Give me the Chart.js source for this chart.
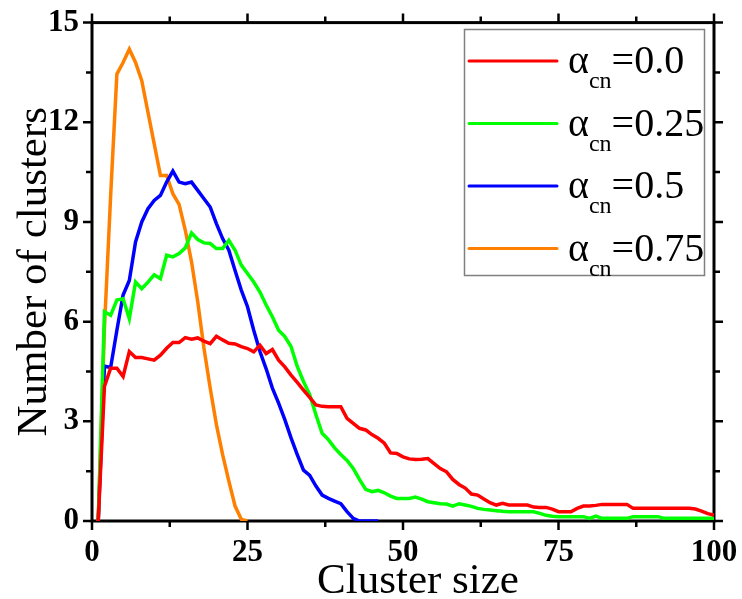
<!DOCTYPE html>
<html>
<head>
<meta charset="utf-8">
<script src="https://cdn.jsdelivr.net/npm/chart.js@4.4.1/dist/chart.umd.min.js"></script>
<style>
  html, body { margin: 0; padding: 0; background: #fff; }
  #wrap { width: 742px; height: 599px; }
</style>
</head>
<body>
<div id="wrap"><canvas id="chart" width="742" height="599"></canvas></div>
<script>
// cluster sizes on the x axis
const clusterSize = [
  1, 2, 3, 4, 5, 6, 7, 8, 9, 10, 11, 12, 13, 14, 15, 16, 17, 18, 19, 20,
  21, 22, 23, 24, 25, 26, 27, 28, 29, 30, 31, 32, 33, 34, 35, 36, 37, 38, 39, 40,
  41, 42, 43, 44, 45, 46, 47, 48, 49, 50, 51, 52, 53, 54, 55, 56, 57, 58, 59, 60,
  61, 62, 63, 64, 65, 66, 67, 68, 69, 70, 71, 72, 73, 74, 75, 76, 77, 78, 79, 80,
  81, 82, 83, 84, 85, 86, 87, 88, 89, 90, 91, 92, 93, 94, 95, 96, 97, 98, 99, 100
];

// number of clusters for each alpha_cn
const clusters00 = [
  0, 4.05, 4.6, 4.6, 4.35, 5.1, 4.92, 4.92, 4.88, 4.84,
  4.99, 5.2, 5.37, 5.37, 5.52, 5.47, 5.51, 5.41, 5.34, 5.56,
  5.45, 5.35, 5.33, 5.25, 5.19, 5.09, 5.29, 5.04, 5.16, 4.84,
  4.64, 4.39, 4.17, 3.94, 3.72, 3.49, 3.45, 3.44, 3.44, 3.44,
  3.09, 2.94, 2.79, 2.74, 2.6, 2.49, 2.34, 2.05, 2.03, 1.93,
  1.87, 1.85, 1.86, 1.88, 1.73, 1.58, 1.48, 1.25, 1.1, 0.99,
  0.81, 0.78, 0.66, 0.55, 0.48, 0.53, 0.48, 0.48, 0.48, 0.48,
  0.42, 0.41, 0.41, 0.36, 0.28, 0.28, 0.28, 0.38, 0.45, 0.45,
  0.47, 0.5, 0.5, 0.5, 0.5, 0.5, 0.38, 0.38, 0.38, 0.38,
  0.38, 0.38, 0.38, 0.38, 0.38, 0.38, 0.36, 0.3, 0.22, 0.18
];
const clusters025 = [
  0, 6.3, 6.19, 6.65, 6.69, 6.09, 7.19, 6.99, 7.19, 7.41,
  7.29, 8.0, 7.95, 8.05, 8.22, 8.67, 8.47, 8.37, 8.35, 8.2,
  8.2, 8.45, 8.15, 7.7, 7.45, 7.19, 6.89, 6.5, 6.15, 5.74,
  5.55, 5.25, 4.65, 4.2, 3.8, 3.2, 2.64, 2.45, 2.2, 2.0,
  1.82, 1.58, 1.25, 0.95, 0.88, 0.92, 0.85, 0.75, 0.68, 0.68,
  0.68, 0.72, 0.66, 0.58, 0.55, 0.52, 0.51, 0.45, 0.52, 0.48,
  0.44, 0.38, 0.35, 0.33, 0.31, 0.29, 0.28, 0.28, 0.28, 0.28,
  0.28, 0.23, 0.17, 0.14, 0.13, 0.13, 0.13, 0.13, 0.13, 0.08,
  0.15, 0.08, 0.08, 0.08, 0.08, 0.08, 0.13, 0.13, 0.13, 0.13,
  0.13, 0.08, 0.08, 0.08, 0.08, 0.08, 0.08, 0.08, 0.08, 0.08
];
const clusters05 = [
  0, 4.66, 4.62, 5.74, 6.8, 7.24, 8.4, 9.0, 9.4, 9.65,
  9.8, 10.2, 10.53, 10.2, 10.15, 10.2, 9.95, 9.7, 9.45, 8.95,
  8.5, 8.15, 7.54, 6.95, 6.45, 5.74, 5.1, 4.58, 4.0, 3.55,
  3.05, 2.5, 2.0, 1.53, 1.37, 1.05, 0.78, 0.68, 0.6, 0.52,
  0.28, 0.08, 0, 0, 0, 0
];
const clusters075 = [
  0, 5.8, 9.8, 13.45, 13.8, 14.2, 13.8, 13.25, 12.3, 11.35,
  10.4, 10.4, 9.85, 9.53, 8.75, 7.8, 6.6, 5.2, 4.0, 2.9,
  2.0, 1.2, 0.45, 0.05, 0
];

const alphaValues = ['0.0', '0.25', '0.5', '0.75'];
const lineColors = ['#ff0000', '#00ff00', '#0000ff', '#ff8000'];
const seriesList = [clusters00, clusters025, clusters05, clusters075];

const SERIF = '"Liberation Serif", "Times New Roman", serif';

function toPoints(values) {
  return values.map((v, i) => ({ x: clusterSize[i], y: v }));
}

// tick marks (major + minor) on all four sides, pointing outwards, plus the frame
const framePlugin = {
  id: 'frame',
  beforeDatasetsDraw(chart) {
    const { ctx, chartArea: a, scales } = chart;
    const xs = scales.x, ys = scales.y;
    ctx.save();
    ctx.strokeStyle = '#000';
    ctx.lineWidth = 3;
    ctx.strokeRect(a.left, a.top, a.right - a.left, a.bottom - a.top);
    ctx.lineWidth = 2.5;
    ctx.beginPath();
    xs.ticks.forEach(t => {
      const px = xs.getPixelForValue(t.value);
      const len = t.value % 25 === 0 ? 9 : 6;
      ctx.moveTo(px, a.bottom); ctx.lineTo(px, a.bottom + len);
      ctx.moveTo(px, a.top); ctx.lineTo(px, a.top - len);
    });
    ys.ticks.forEach(t => {
      const py = ys.getPixelForValue(t.value);
      const len = t.value % 3 === 0 ? 9 : 6;
      ctx.moveTo(a.left, py); ctx.lineTo(a.left - len, py);
      ctx.moveTo(a.right, py); ctx.lineTo(a.right + len, py);
    });
    ctx.stroke();

    // x axis title, sits a bit right of the plot centre
    ctx.fillStyle = '#000';
    ctx.font = '43px ' + SERIF;
    ctx.textAlign = 'center';
    ctx.textBaseline = 'alphabetic';
    ctx.fillText('Cluster size', (a.left + a.right) / 2 + 15, chart.height - 6);
    ctx.restore();
  }
};

// legend with alpha and the "cn" subscript
const legendPlugin = {
  id: 'alphaLegend',
  afterDraw(chart) {
    const { ctx } = chart;
    ctx.save();
    ctx.strokeStyle = '#808080';
    ctx.lineWidth = 1.5;
    ctx.strokeRect(464.5, 29.5, 240, 246);
    chart.data.datasets.forEach((ds, i) => {
      const yc = 61 + i * 62.5;
      ctx.strokeStyle = ds.borderColor;
      ctx.lineWidth = 3;
      ctx.lineCap = 'round';
      ctx.beginPath();
      ctx.moveTo(469, yc);
      ctx.lineTo(557, yc);
      ctx.stroke();

      ctx.fillStyle = '#000';
      ctx.textBaseline = 'alphabetic';
      ctx.textAlign = 'left';
      let x = 568;
      ctx.font = '40px ' + SERIF;
      ctx.fillText('\u03b1', x, yc + 12);
      x += ctx.measureText('\u03b1').width;
      ctx.font = '24px ' + SERIF;
      ctx.fillText('cn', x, yc + 27);
      x += ctx.measureText('cn').width;
      ctx.font = '40px ' + SERIF;
      ctx.fillText('=' + alphaValues[i], x, yc + 12);
    });
    ctx.restore();
  }
};

const ctx = document.getElementById('chart').getContext('2d');
new Chart(ctx, {
  type: 'line',
  data: {
    datasets: seriesList.map((vals, i) => ({
      label: 'alpha_cn=' + alphaValues[i],
      data: toPoints(vals),
      borderColor: lineColors[i],
      backgroundColor: lineColors[i],
      borderWidth: 3.5,
      pointRadius: 0,
      tension: 0,
      fill: false
    }))
  },
  options: {
    responsive: false,
    animation: false,
    layout: { padding: { left: 0, right: 28, top: 22, bottom: 0 } },
    plugins: {
      legend: { display: false },
      tooltip: { enabled: false }
    },
    scales: {
      x: {
        type: 'linear',
        min: 0,
        max: 100,
        border: { display: false },
        grid: { drawOnChartArea: false, drawTicks: true, tickLength: 9, tickColor: 'rgba(0,0,0,0)' },
        ticks: {
          stepSize: 12.5,
          autoSkip: false,
          maxRotation: 0,
          padding: 4,
          color: '#000',
          font: { family: SERIF, size: 31, weight: 'bold' },
          callback: v => (v % 25 === 0 ? String(v) : '')
        },
        title: { display: false },
        afterFit(scale) { scale.height = 78; }
      },
      y: {
        min: 0,
        max: 15,
        border: { display: false },
        grid: { drawOnChartArea: false, drawTicks: true, tickLength: 9, tickColor: 'rgba(0,0,0,0)' },
        ticks: {
          stepSize: 1.5,
          autoSkip: false,
          padding: 4,
          color: '#000',
          font: { family: SERIF, size: 31, weight: 'bold' },
          callback: v => (v % 3 === 0 ? String(v) : '')
        },
        title: {
          display: true,
          text: 'Number of clusters',
          color: '#000',
          padding: { top: 9, bottom: 0 },
          font: { family: SERIF, size: 43 }
        },
        afterFit(scale) { scale.width = 92; }
      }
    }
  },
  plugins: [framePlugin, legendPlugin]
});
</script>
</body>
</html>
